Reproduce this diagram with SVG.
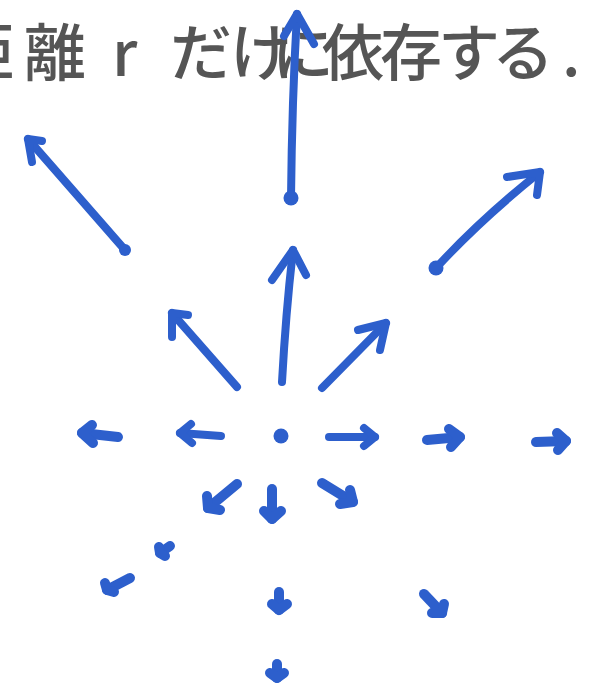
<svg xmlns="http://www.w3.org/2000/svg" width="597" height="688" viewBox="0 0 597 688">
  <style>
    .ink { fill: none; stroke: #2d5fcc; stroke-linecap: round; stroke-linejoin: round; }
    .long { stroke-width: 8; }
    .short { stroke-width: 10; }
    .dot { fill: #2d5fcc; }
    .note { font-family: "Noto Sans CJK JP", "Noto Sans", sans-serif; font-size: 62px; font-weight: 500; fill: #555555; }
  </style>
  <rect width="597" height="688" fill="#ffffff"/>

  <!-- caption (its first character runs off the left edge) -->
  <g id="caption">
    <text class="note" x="-48" y="76">距</text>
    <text class="note" x="24 112 170 230 272 322 380 438 492 562" y="76">離rだけに依存する.</text>
  </g>

  <!-- field arrows radiating from the origin -->
  <g id="connectors">
    <g id="arrow-top">
      <path class="ink long" d="M291 198 Q292 100 297 14"/>
      <path class="ink long" d="M284 36 L297 14 L314 44"/>
      <circle class="dot" cx="291" cy="198" r="7.5"/>
    </g>
    <g id="arrow-upper-left">
      <path class="ink long" d="M125 250 L28 139"/>
      <path class="ink long" d="M42 141 L28 139 L32 162"/>
      <circle class="dot" cx="125" cy="250" r="6"/>
    </g>
    <g id="arrow-up">
      <path class="ink long" d="M282 382 Q286 310 293 250"/>
      <path class="ink long" d="M272 280 L293 250 L306 275"/>
    </g>
    <g id="arrow-near-upper-left">
      <path class="ink long" d="M237 387 L172 313"/>
      <path class="ink long" d="M188 315 L172 313 L172 337"/>
    </g>
    <g id="arrow-upper-right">
      <path class="ink long" d="M436 268 Q480 220 540 172"/>
      <path class="ink long" d="M507 177 L540 172 L537 195"/>
      <circle class="dot" cx="436" cy="268" r="7.5"/>
    </g>
    <g id="arrow-near-upper-right">
      <path class="ink long" d="M322 388 L386 323"/>
      <path class="ink long" d="M358 330 L386 323 L380 350"/>
    </g>

    <!-- horizontal row -->
    <g id="arrow-far-left">
      <path class="ink short" d="M118 437 L82 433"/>
      <path class="ink short" d="M92 425 L82 433 L93 443"/>
    </g>
    <g id="arrow-left">
      <path class="ink long" d="M221 436 L180 433"/>
      <path class="ink long" d="M191 424 L180 433 L192 443"/>
    </g>
    <circle id="origin" class="dot" cx="281" cy="436" r="7.5"/>
    <g id="arrow-right">
      <path class="ink long" d="M329 437 L375 437"/>
      <path class="ink long" d="M364 428 L375 437 L364 446"/>
    </g>
    <g id="arrow-mid-right">
      <path class="ink short" d="M427 440 L460 437"/>
      <path class="ink short" d="M449 429 L460 437 L451 447"/>
    </g>
    <g id="arrow-far-right">
      <path class="ink short" d="M536 442 L566 441"/>
      <path class="ink short" d="M557 433 L566 441 L558 450"/>
    </g>

    <!-- lower arrows -->
    <g id="arrow-near-lower-left">
      <path class="ink short" d="M237 484 L208 508"/>
      <path class="ink short" d="M207 496 L208 508 L220 510"/>
    </g>
    <g id="arrow-near-down">
      <path class="ink short" d="M272 489 L272 519"/>
      <path class="ink short" d="M264 511 L272 519 L281 511"/>
    </g>
    <g id="arrow-near-lower-right">
      <path class="ink short" d="M322 483 L353 502"/>
      <path class="ink short" d="M350 490 L353 502 L340 504"/>
    </g>
    <g id="arrow-mid-lower-left">
      <path class="ink short" d="M170 546 L160 553"/>
      <path class="ink short" d="M159 547 L160 553 L165 556"/>
    </g>
    <g id="arrow-far-lower-left">
      <path class="ink short" d="M130 578 L107 590"/>
      <path class="ink short" d="M105 583 L107 590 L114 592"/>
    </g>
    <g id="arrow-mid-down">
      <path class="ink short" d="M279 592 L279 610"/>
      <path class="ink short" d="M272 604 L279 610 L287 604"/>
    </g>
    <g id="arrow-mid-lower-right">
      <path class="ink short" d="M424 594 L442 613"/>
      <path class="ink short" d="M444 604 L442 613 L432 613"/>
    </g>
    <g id="arrow-far-down">
      <path class="ink short" d="M277 664 L277 678"/>
      <path class="ink short" d="M270 673 L277 678 L284 673"/>
    </g>
  </g>
</svg>
